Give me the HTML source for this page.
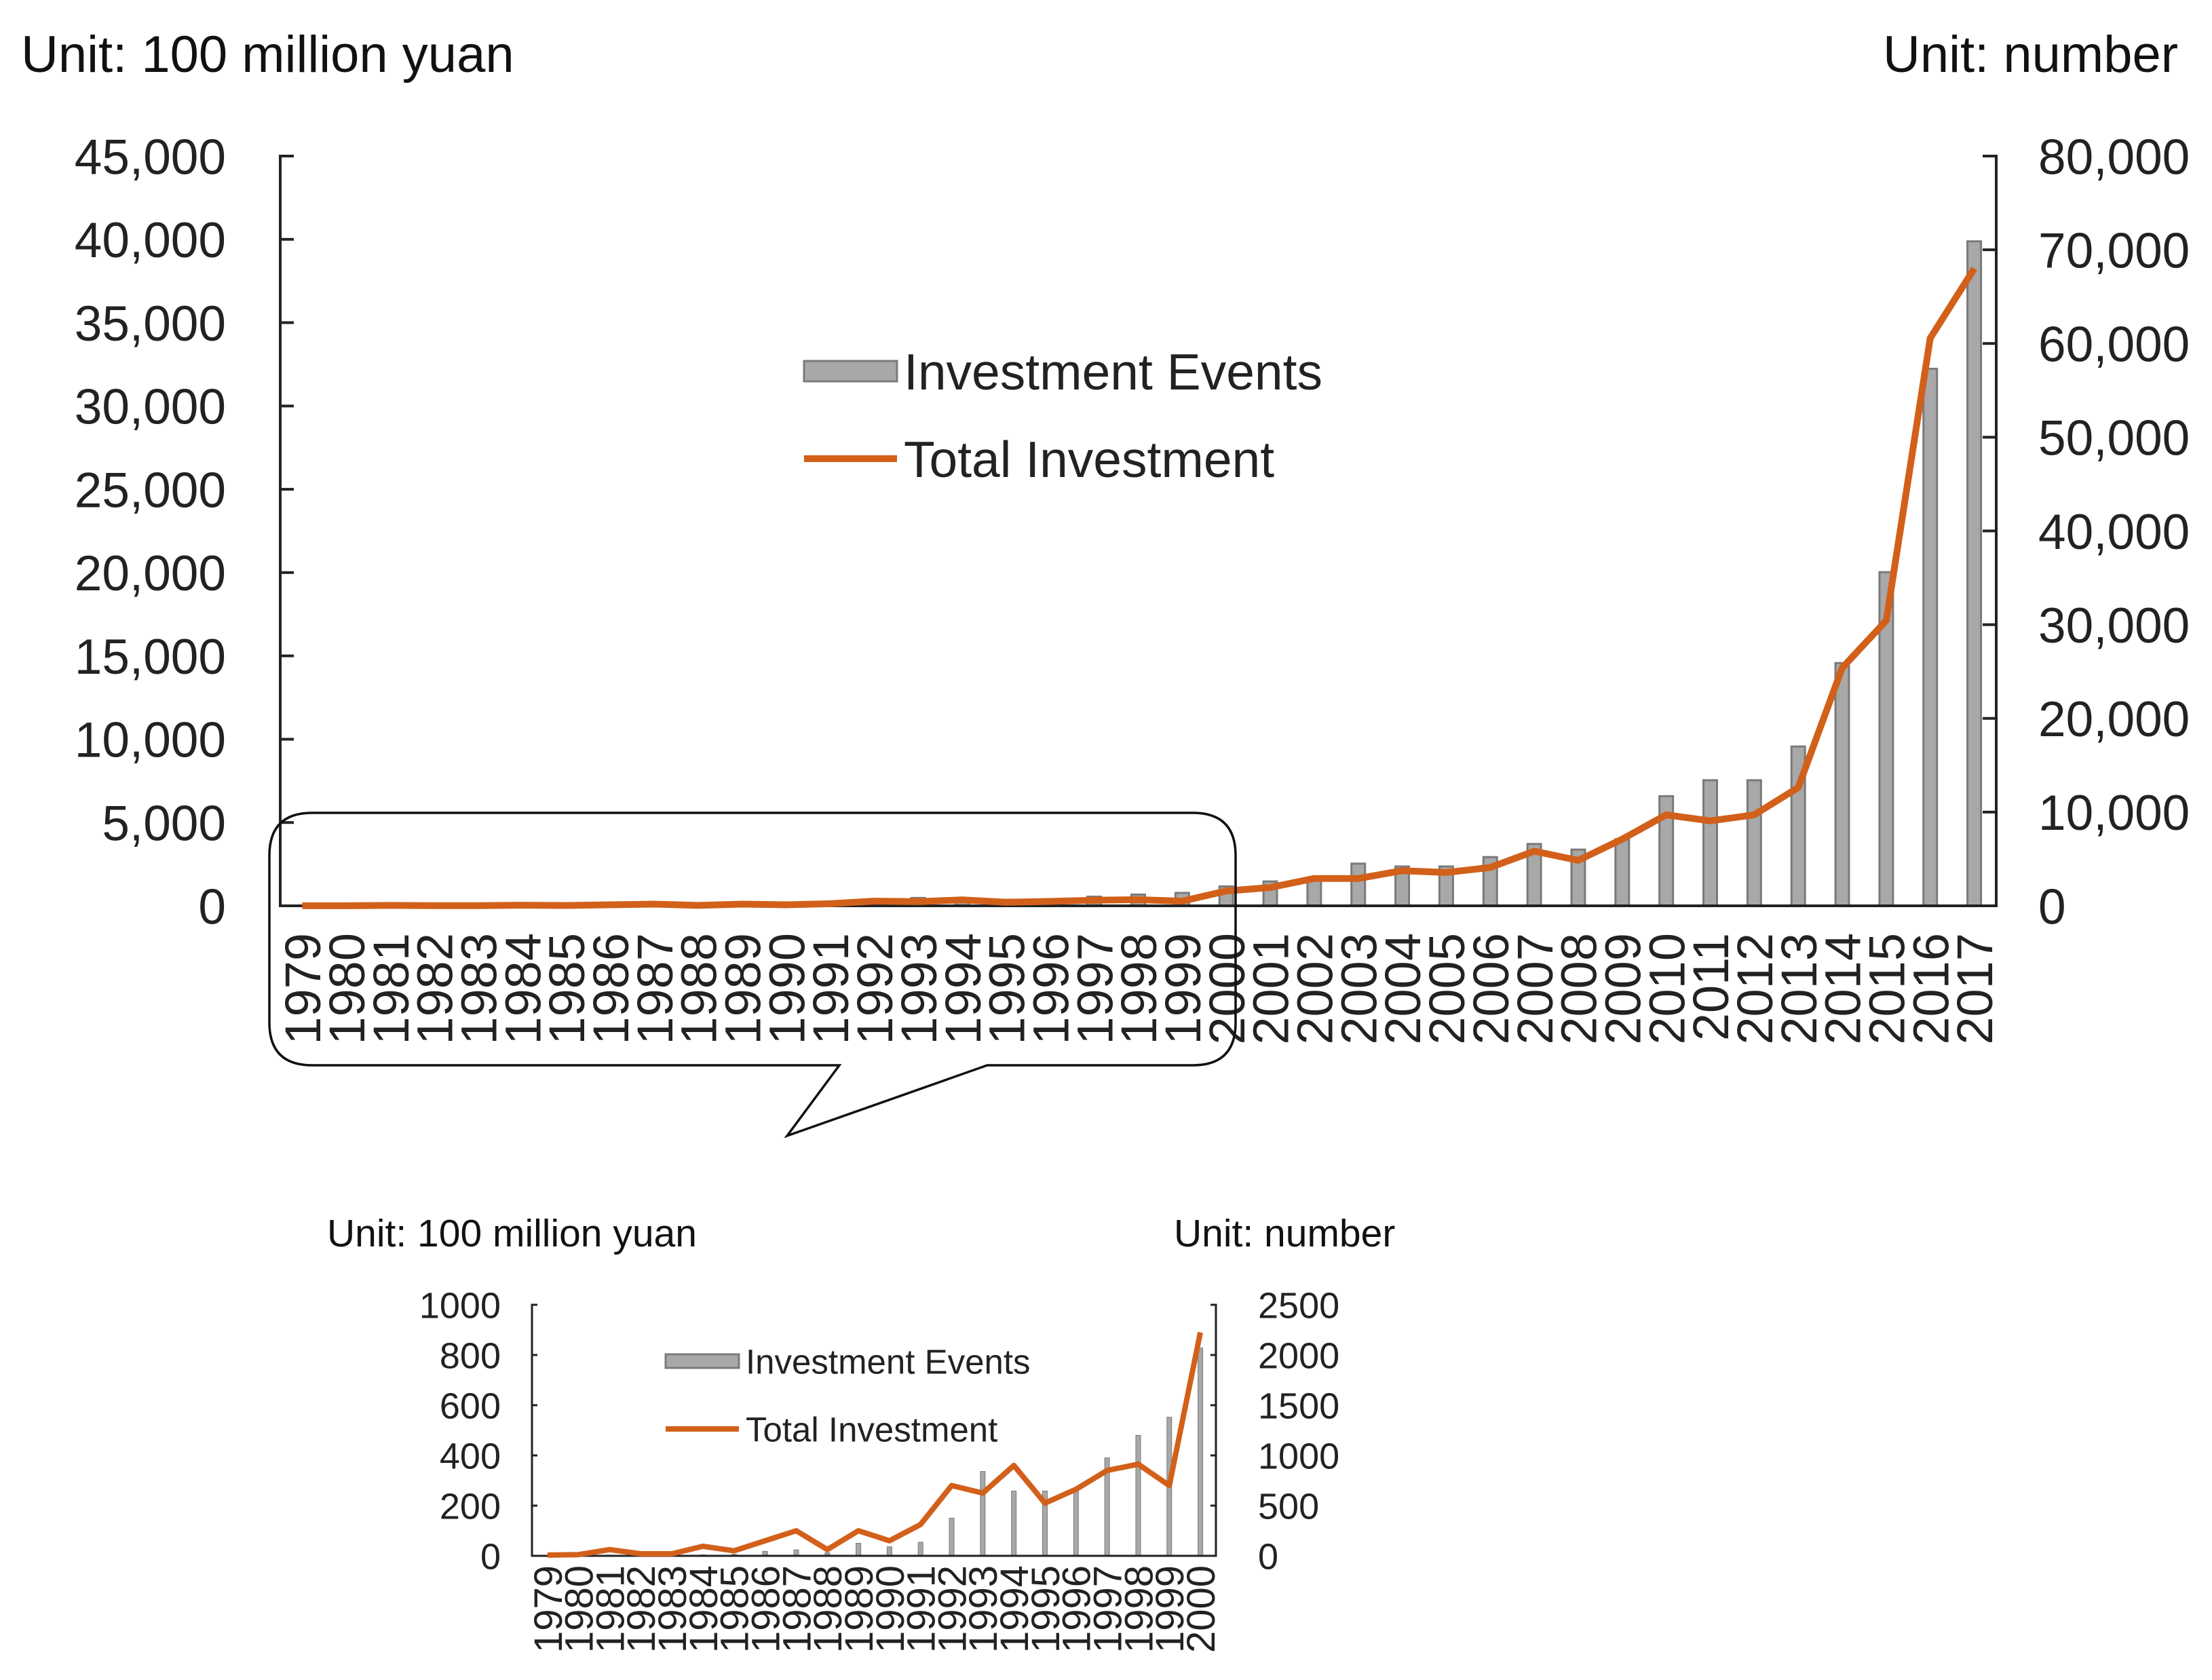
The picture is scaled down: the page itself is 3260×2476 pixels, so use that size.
<!DOCTYPE html>
<html><head><meta charset="utf-8"><style>
html,body{margin:0;padding:0;background:#fff;}
svg{display:block;font-family:"Liberation Sans","DejaVu Sans",sans-serif;}
</style></head><body>
<svg id="chart" width="3260" height="2476" viewBox="0 0 3260 2476" xmlns="http://www.w3.org/2000/svg">
<rect width="3260" height="2476" fill="#fff"/>
<g id="main"></g>
<g id="inset"></g>
<path d="M460,1198 H1758 Q1821,1198 1821,1261 V1507 Q1821,1570 1758,1570 H1455 L1160,1674 L1237,1570 H460 Q397,1570 397,1507 V1261 Q397,1198 460,1198 Z" fill="none" stroke="#111" stroke-width="3.5"/>
</svg>
<script>
const years = [1979,1980,1981,1982,1983,1984,1985,1986,1987,1988,1989,1990,1991,1992,1993,1994,1995,1996,1997,1998,1999,2000,2001,2002,2003,2004,2005,2006,2007,2008,2009,2010,2011,2012,2013,2014,2015,2016,2017];
const investmentEvents = [5,5,8,5,5,10,15,45,60,30,125,90,135,375,840,645,645,660,975,1200,1380,2070,2600,2800,4500,4200,4200,5200,6600,6000,7100,11700,13400,13400,17000,25900,35600,57300,70900];
const totalInvestment = [3,5,25,8,8,38,20,60,100,25,100,60,125,280,250,360,210,265,340,365,280,890,1100,1640,1640,2110,2000,2300,3280,2730,4000,5460,5100,5460,7100,14280,17120,34070,38250];
const leftTicksMain = [0,5000,10000,15000,20000,25000,30000,35000,40000,45000];
const rightTicksMain = [0,10000,20000,30000,40000,50000,60000,70000,80000];
const leftTicksInset = [0,200,400,600,800,1000];
const rightTicksInset = [0,500,1000,1500,2000,2500];
const insetCount = 22;

const NS = "http://www.w3.org/2000/svg";
function mk(parent, tag, attrs, text){
  const e = document.createElementNS(NS, tag);
  for (const k in attrs) e.setAttribute(k, attrs[k]);
  if (text !== undefined) e.textContent = text;
  parent.appendChild(e);
  return e;
}
const fmt = v => v.toLocaleString('en-US');

function drawChart(g, o){
  const n = o.years.length;
  const step = (o.x1 - o.x0) / n;
  const xc = i => o.x0 + step * (i + 0.5);
  const yL = v => o.y1 - (v / o.lMax) * (o.y1 - o.y0);
  const yR = v => o.y1 - (v / o.rMax) * (o.y1 - o.y0);
  o.events.forEach((v, i) => {
    const h = o.y1 - yR(v);
    const r = mk(g, 'rect', {x: xc(i) - o.barW/2, y: yR(v), width: o.barW, height: Math.max(h,0), fill: '#a8a8a8', stroke: '#7a7a7a', 'stroke-width': o.barStroke});
    
    
  });
  const ax = mk(g, 'path', {d: `M${o.x0+o.tick},${o.y0} H${o.x0} V${o.y1} H${o.x1} V${o.y0} H${o.x1-o.tick}`, fill: 'none', stroke: '#222', 'stroke-width': o.axW});
  
  
  o.lTicks.forEach(v => {
    mk(g, 'line', {x1: o.x0, x2: o.x0 + o.tick, y1: yL(v), y2: yL(v), stroke: '#222', 'stroke-width': o.axW});
    const t = mk(g, 'text', {x: o.x0 - o.lGap, y: yL(v) + o.fs*0.36, 'text-anchor': 'end', 'font-size': o.fs, fill: '#222'}, o.comma ? fmt(v) : String(v));
    
    
  });
  o.rTicks.forEach(v => {
    mk(g, 'line', {x1: o.x1 - o.tick, x2: o.x1, y1: yR(v), y2: yR(v), stroke: '#222', 'stroke-width': o.axW});
    const t = mk(g, 'text', {x: o.x1 + o.rGap, y: yR(v) + o.fs*0.36, 'text-anchor': 'start', 'font-size': o.fs, fill: '#222'}, o.comma ? fmt(v) : String(v));
    
    
  });
  o.years.forEach((y, i) => {
    const t = mk(g, 'text', {transform: `translate(${xc(i) + o.xfs*0.36},${o.y1 + o.xGap}) rotate(-90)`, 'text-anchor': 'end', 'font-size': o.xfs, fill: '#222'}, String(y));
    
    
  });
  const pts = o.invest.map((v, i) => `${xc(i).toFixed(1)},${yL(v).toFixed(1)}`).join(' ');
  const pl = mk(g, 'polyline', {points: pts, fill: 'none', stroke: '#d2601a', 'stroke-width': o.lineW, 'stroke-linejoin': 'round'});
  
  
  const u1 = mk(g, 'text', {x: o.u1x, y: o.uy, 'font-size': o.ufs, fill: '#111'}, 'Unit: 100 million yuan');
  
  
  const u2 = mk(g, 'text', {x: o.u2x, y: o.uy, 'font-size': o.ufs, fill: '#111'}, 'Unit: number');
  
  
  const lg = mk(g, 'g', {});
  
  
  const sw = mk(lg, 'rect', {x: o.lgx, y: o.lgy1 - o.swH/2, width: o.swW, height: o.swH, fill: '#a8a8a8', stroke: '#7a7a7a', 'stroke-width': 3});
  
  
  const t1 = mk(lg, 'text', {x: o.lgx + o.swW + 10, y: o.lgy1 + o.lfs*0.36, 'font-size': o.lfs, fill: '#222'}, 'Investment Events');
  
  
  const sl = mk(lg, 'line', {x1: o.lgx, x2: o.lgx + o.swW, y1: o.lgy2, y2: o.lgy2, stroke: '#d2601a', 'stroke-width': o.lineW});
  
  
  const t2 = mk(lg, 'text', {x: o.lgx + o.swW + 10, y: o.lgy2 + o.lfs*0.36, 'font-size': o.lfs, fill: '#222'}, 'Total Investment');
  
  
}

drawChart(document.getElementById('main'), {
  years: years, events: investmentEvents, invest: totalInvestment,
  x0: 413, x1: 2942, y0: 230, y1: 1335, lMax: 45000, rMax: 80000,
  lTicks: leftTicksMain, rTicks: rightTicksMain, comma: true,
  tick: 20, axW: 4, fs: 73, lGap: 80, rGap: 62, xfs: 74, xGap: 40,
  barW: 20, barStroke: 3, lineW: 10,
  u1x: 31, u2x: 2775, uy: 106, ufs: 76,
  lgx: 1185, lgy1: 547, lgy2: 676, swW: 137, swH: 30, lfs: 75
});
drawChart(document.getElementById('inset'), {
  years: years.slice(0, insetCount), events: investmentEvents.slice(0, insetCount), invest: totalInvestment.slice(0, insetCount),
  x0: 784, x1: 1792, y0: 1923, y1: 2293, lMax: 1000, rMax: 2500,
  lTicks: leftTicksInset, rTicks: rightTicksInset, comma: false,
  tick: 8, axW: 3, fs: 54, lGap: 46, rGap: 62, xfs: 58, xGap: 14,
  barW: 7, barStroke: 1, lineW: 8,
  u1x: 482, u2x: 1730, uy: 1837, ufs: 57,
  lgx: 981, lgy1: 2006, lgy2: 2106, swW: 108, swH: 20, lfs: 51
});
</script>
</body></html>
